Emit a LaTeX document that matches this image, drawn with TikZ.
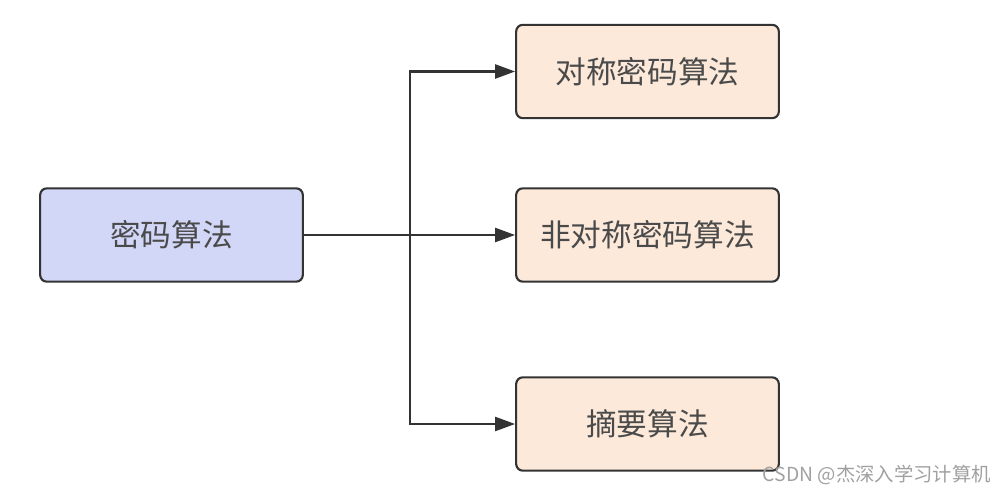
\documentclass[tikz,border=0pt]{standalone}
\usepackage{fontspec}
\newfontfamily\cjk{Noto Sans CJK SC}
\usetikzlibrary{arrows.meta}
\definecolor{mainfill}{HTML}{D3D7F7}
\definecolor{subfill}{HTML}{FCE9DA}
\definecolor{edge}{HTML}{333333}
\definecolor{txt}{HTML}{4A4A4A}
\definecolor{wm}{HTML}{A0A0A0}
\tikzset{
  boxnode/.style={draw=edge, line width=1.6pt, rounded corners=5pt, minimum width=197pt, minimum height=70pt, inner sep=0pt, text=txt, font=\cjk\fontsize{23pt}{27pt}\selectfont},
  conn/.style={draw=edge, line width=1.8pt, -{Triangle[length=15pt,width=10.5pt]}},
}
\begin{document}
\begin{tikzpicture}[x=0.75pt,y=-0.75pt]
\useasboundingbox (0,0) rectangle (1006,495);
\node[boxnode, fill=mainfill] (m) at (171.5,235) {密码算法};
\node[boxnode, fill=subfill] (a) at (647.5,71.5) {对称密码算法};
\node[boxnode, fill=subfill] (b) at (647.5,235) {非对称密码算法};
\node[boxnode, fill=subfill] (c) at (647.5,424) {摘要算法};
\coordinate (j) at (410,235);
\draw[draw=edge, line width=1.8pt] (m.east) -- (j);
\draw[conn] (j) |- (a.west);
\draw[conn] (j) -- (b.west);
\draw[conn] (j) |- (c.west);
\node[anchor=east, text=wm, font=\cjk\fontsize{14.5pt}{17pt}\selectfont, inner sep=0pt] (w) at (991,475) {CSDN @杰深入学习计算机};
\end{tikzpicture}
\end{document}
